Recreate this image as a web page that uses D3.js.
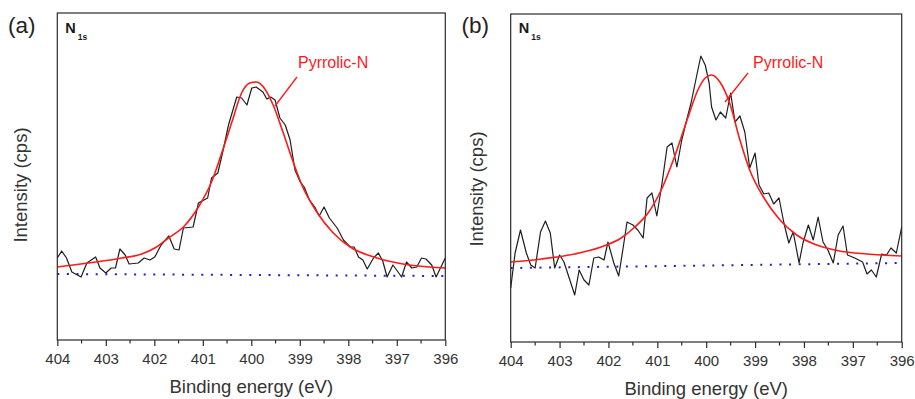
<!DOCTYPE html>
<html>
<head>
<meta charset="utf-8">
<script src="https://cdn.jsdelivr.net/npm/d3@7"></script>
<style>
	body { margin: 0; background: #fff; }
	svg { display: block; font-family: "Liberation Sans", Arial, sans-serif; }
</style>
</head>
<body>
<svg id="chart" width="915" height="399"></svg>
<script>

// panel (a): raw spectrum (eV, relative counts)
var energyA = [404.0, 403.91, 403.81, 403.70, 403.51, 403.39, 403.21, 403.12, 403.0, 402.89,
	402.80, 402.71, 402.60, 402.52, 402.33, 402.21, 402.09, 401.99, 401.86, 401.70,
	401.59, 401.49, 401.40, 401.20, 401.09, 400.90, 400.82, 400.69, 400.58, 400.47,
	400.30, 400.20, 400.09, 399.99, 399.90, 399.76, 399.68, 399.60, 399.51, 399.41,
	399.30, 399.20, 399.10, 398.99, 398.91, 398.80, 398.69, 398.60, 398.50, 398.39,
	398.23, 398.10, 397.96, 397.88, 397.79, 397.70, 397.61, 397.48, 397.38, 397.29,
	397.20, 397.08, 396.90, 396.80, 396.69, 396.59, 396.49, 396.40, 396.28, 396.19,
	396.07, 396.0];
var intensityA = [82, 89, 82, 68, 63, 77, 83, 72, 67, 72,
	72, 91, 85, 76, 77, 82, 80, 83, 95, 104,
	91, 90, 112, 113, 137, 142, 162, 167, 190, 215,
	243, 242, 235, 252, 253, 248, 241, 243, 240, 222,
	215, 200, 170, 158, 153, 140, 133, 124, 133, 122,
	112, 100, 93, 93, 83, 80, 71, 82, 87, 79,
	63, 75, 63, 78, 72, 73, 82, 81, 75, 63,
	75, 82];

// panel (a): Pyrrolic-N fit and background
var fitEnergyA = [404.0, 403.36, 402.67, 402.26, 401.99, 401.71, 401.40, 401.09, 400.82, 400.61,
	400.40, 400.20, 400.03, 399.90, 399.75, 399.55, 399.34, 399.13, 398.93, 398.65,
	398.31, 397.96, 397.41, 396.87, 396.0];
var fitA = [73, 77, 82, 86, 92, 102, 113, 133, 158, 187,
	218, 247, 257, 258, 253, 235, 207, 177, 152, 128,
	107, 93, 82, 76, 72];
var baseEnergyA = [404, 396];
var baseA = [66, 64];

// panel (b)
var energyB = [404.0, 403.91, 403.80, 403.68, 403.59, 403.50, 403.39, 403.29, 403.19, 403.10,
	403.0, 402.91, 402.79, 402.69, 402.60, 402.50, 402.40, 402.30, 402.20, 402.09,
	402.01, 401.89, 401.79, 401.70, 401.62, 401.50, 401.40, 401.29, 401.21, 401.11,
	401.01, 400.90, 400.80, 400.70, 400.60, 400.50, 400.41, 400.31, 400.20, 400.11,
	400.02, 399.94, 399.89, 399.80, 399.71, 399.60, 399.50, 399.41, 399.31, 399.21,
	399.11, 399.0, 398.92, 398.82, 398.72, 398.62, 398.51, 398.41, 398.31, 398.22,
	398.10, 398.02, 397.91, 397.81, 397.71, 397.61, 397.51, 397.40, 397.30, 397.20,
	397.11, 396.96, 396.80, 396.71, 396.62, 396.52, 396.41, 396.31, 396.22, 396.11,
	396.0];
var intensityB = [54, 89, 112, 89, 77, 74, 110, 121, 109, 74,
	87, 80, 62, 47, 72, 62, 57, 84, 85, 82,
	100, 79, 66, 94, 120, 117, 112, 104, 144, 149,
	126, 160, 195, 199, 175, 202, 220, 239, 265, 286,
	277, 259, 235, 222, 230, 224, 249, 220, 226, 210,
	174, 189, 157, 148, 149, 138, 144, 119, 99, 110,
	79, 99, 117, 102, 125, 100, 92, 79, 107, 116,
	87, 84, 80, 68, 72, 65, 88, 87, 94, 89,
	115];

var fitEnergyB = [404.0, 403.37, 402.69, 402.15, 401.74, 401.46, 401.19, 400.92, 400.65, 400.37,
	400.17, 400.02, 399.89, 399.72, 399.52, 399.31, 399.11, 398.83, 398.49, 398.15,
	397.74, 397.27, 396.72, 396.0];
var fitB = [80, 83, 88, 95, 104, 115, 129, 152, 185, 225,
	252, 264, 267, 260, 239, 202, 172, 145, 122, 107,
	97, 91, 88, 86];
var baseEnergyB = [404, 396];
var baseB = [74, 79];

var majorTicks = [404, 403, 402, 401, 400, 399, 398, 397, 396];
var minorTicks = [403.5, 402.5, 401.5, 400.5, 399.5, 398.5, 397.5, 396.5];

var panels = [
	{ tag: "(a)", left: 57.3, right: 445.3, top: 13, bottom: 340, tagX: 8,
		energy: energyA, counts: intensityA, fitE: fitEnergyA, fit: fitA,
		baseE: baseEnergyA, base: baseA, labelX: 298, lineFrom: [297, 77], lineTo: [275, 106],
		yTitleX: 26.5, yTitleY: 185 },
	{ tag: "(b)", left: 510.7, right: 901.7, top: 14, bottom: 342, tagX: 461.5,
		energy: energyB, counts: intensityB, fitE: fitEnergyB, fit: fitB,
		baseE: baseEnergyB, base: baseB, labelX: 753, lineFrom: [748, 73], lineTo: [725, 102],
		yTitleX: 483, yTitleY: 189 }
];

var svg = d3.select("#chart");


function drawPanel(p) {

	var x = d3.scaleLinear()
				.domain([404, 396])
				.range([p.left, p.right]);

	var y = d3.scaleLinear()
				.domain([0, p.bottom - p.top])
				.range([p.bottom, p.top]);

	var g = svg.append("g");

	var line = d3.line()
				.x(function(d) { return x(d[0]); })
				.y(function(d) { return y(d[1]); });

	var smooth = d3.line()
				.curve(d3.curveMonotoneX)
				.x(function(d) { return x(d[0]); })
				.y(function(d) { return y(d[1]); });

	g.append("path")
		.datum(d3.zip(p.baseE, p.base))
		.attr("d", line)
		.style("fill", "none")
		.style("stroke", "#1f1fd0")
		.style("stroke-width", 2)
		.style("stroke-dasharray", "2,7.6");

	g.append("path")
		.datum(d3.zip(p.energy, p.counts))
		.attr("d", line)
		.style("fill", "none")
		.style("stroke", "#1e1e1e")
		.style("stroke-width", 1.2)
		.style("stroke-linejoin", "round");

	g.append("path")
		.datum(d3.zip(p.fitE, p.fit))
		.attr("d", smooth)
		.style("fill", "none")
		.style("stroke", "#ff1a1a")
		.style("stroke-width", 1.6);

	// frame
	g.append("rect")
		.attr("x", p.left)
		.attr("y", p.top)
		.attr("width", p.right - p.left)
		.attr("height", p.bottom - p.top)
		.style("fill", "none")
		.style("stroke", "#2b2b2b")
		.style("stroke-width", 1.2);

	var axis = g.append("g")
				.attr("transform", "translate(0," + p.bottom + ")")
				.call(d3.axisBottom(x)
						.tickValues(majorTicks)
						.tickSize(6)
						.tickPadding(7)
						.tickFormat(d3.format("d")));

	axis.select(".domain").remove();
	axis.selectAll("line").style("stroke", "#2b2b2b").style("stroke-width", 1.2);
	axis.selectAll("text")
		.style("font-size", "15px")
		.style("fill", "#333")
		.style("font-family", "'Liberation Sans', Arial, sans-serif");

	g.append("g")
		.selectAll("line")
		.data(minorTicks).enter()
		.append("line")
		.attr("x1", function(d) { return x(d); })
		.attr("x2", function(d) { return x(d); })
		.attr("y1", p.bottom)
		.attr("y2", p.bottom + 3.5)
		.style("stroke", "#2b2b2b")
		.style("stroke-width", 1.2);

	g.append("text")
		.attr("x", (p.left + p.right) / 2)
		.attr("y", p.bottom + 53)
		.attr("text-anchor", "middle")
		.style("font-size", "18.5px")
		.style("fill", "#333")
		.text("Binding energy (eV)");

	g.append("text")
		.attr("transform", "translate(" + p.yTitleX + "," + p.yTitleY + ") rotate(-90)")
		.attr("text-anchor", "middle")
		.style("font-size", "18.5px")
		.style("fill", "#333")
		.text("Intensity (cps)");

	g.append("text")
		.attr("x", p.tagX)
		.attr("y", 33)
		.style("font-size", "22.5px")
		.style("fill", "#222")
		.text(p.tag);

	var n1s = g.append("text")
				.attr("x", p.left + 8)
				.attr("y", 32.5)
				.style("font-weight", "bold")
				.style("fill", "#1a1a1a");
	n1s.append("tspan")
		.style("font-size", "14.5px")
		.text("N");
	n1s.append("tspan")
		.attr("dx", 2)
		.attr("dy", 7.5)
		.style("font-size", "8.5px")
		.text("1s");

	g.append("line")
		.attr("x1", p.lineFrom[0])
		.attr("y1", p.lineFrom[1])
		.attr("x2", p.lineTo[0])
		.attr("y2", p.lineTo[1])
		.style("stroke", "#ff1a1a")
		.style("stroke-width", 1.3);

	g.append("text")
		.attr("x", p.labelX)
		.attr("y", 67.5)
		.style("font-size", "16px")
		.style("fill", "#ff1a1a")
		.text("Pyrrolic-N");

}


panels.forEach(drawPanel);

</script>
</body>
</html>
